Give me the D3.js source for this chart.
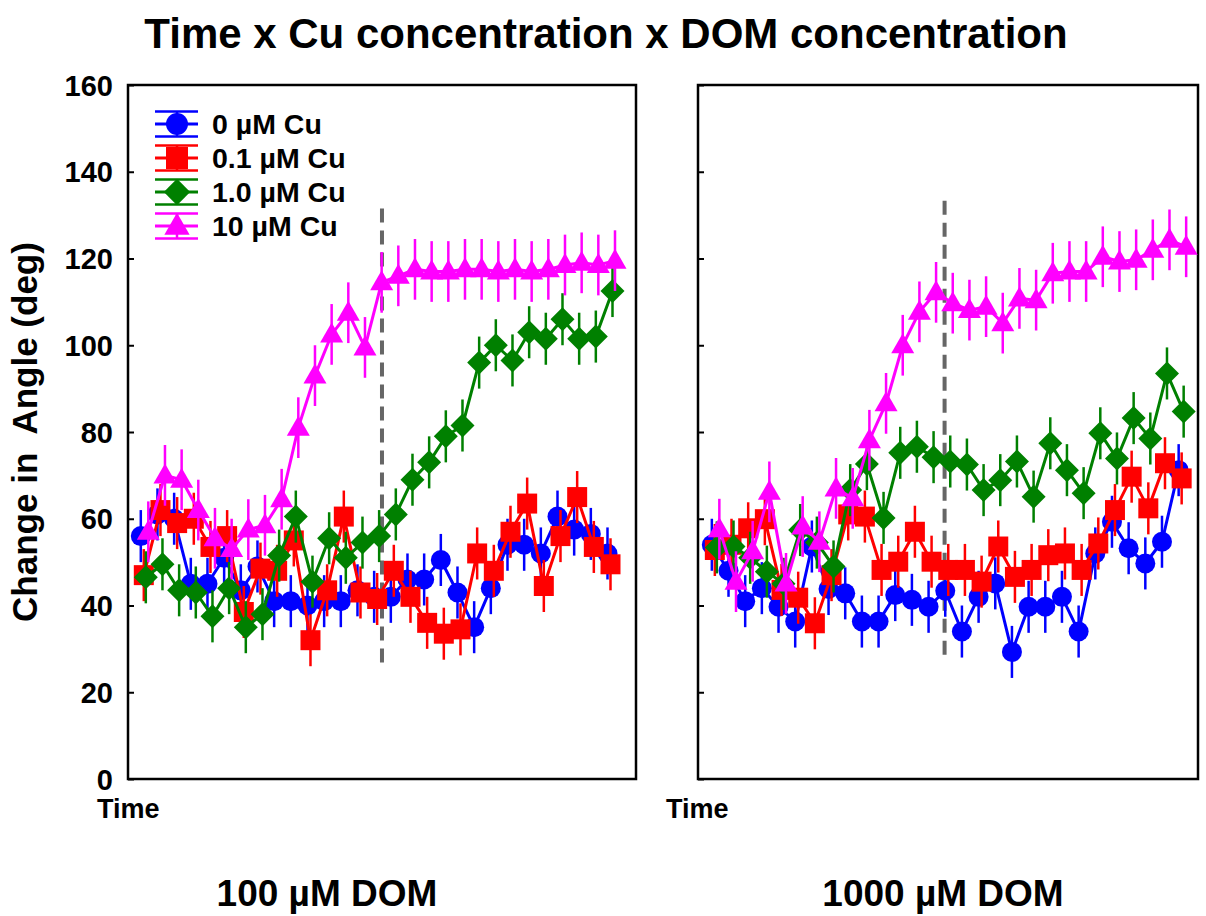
<!DOCTYPE html>
<html><head><meta charset="utf-8">
<script src="https://cdn.jsdelivr.net/npm/d3@7"></script>
<style>
body{margin:0;background:#fff}
text{font-family:"Liberation Sans",Arial,Helvetica,sans-serif;font-weight:bold;fill:#000}
</style>
</head><body>
<svg id="chart" width="1206" height="916"></svg>
<script>
// ---------------- data ----------------
const chartTitle = "Time x Cu concentration x DOM concentration";
const yAxisTitle = "Change in  Angle (deg)";
const xAxisTitle = "Time";
const seriesNames = ["0 µM Cu", "0.1 µM Cu", "1.0 µM Cu", "10 µM Cu"];
const seriesColors = ["#0000ff", "#ff0000", "#008000", "#ff00ff"];
const panelLabels = ["100 µM DOM", "1000 µM DOM"];
const yTicks = [0, 20, 40, 60, 80, 100, 120, 140, 160];
const timeIndex = [0,1,2,3,4,5,6,7,8,9,10,11,12,13,14,15,16,17,18,19,20,21,22,23,24,25,26,27,28];

// 100 µM DOM panel
const dom100_cu0   = [56,61,60,45,45,51,43.5,49,41,41,40,41,41,43.5,42,42,46,46,50.5,43,35,44,54,54,52,60.5,57.5,56.5,52];
const dom100_cu01  = [47,62,59,60,53.5,56,38.5,48.5,48,55,32,43.5,60.5,43,41.5,48,42,36,33.5,34.5,52,48,57,63.5,44.5,56,65,53.5,49.5];
const dom100_cu1   = [46.5,49.5,43.5,43,37.5,44,35,38,51.5,60.5,45.5,55.5,51,54.5,56,61,69,73,79,81.5,96,100,96.5,103,101.5,106,101.5,102,112.5];
const dom100_cu10  = [57,70,69,62,55.5,53,57.5,58.5,64.5,81,93,102.5,107.5,99.5,114.5,116,117.5,117,117,117.5,117.5,117,117.5,117,117.5,118.5,119,118.5,119.5];
// 1000 µM DOM panel
const dom1000_cu0  = [54,48,41,44,39.7,36.3,53.6,43.8,42.8,36.3,36.3,42.4,41.3,39.7,43.4,34,42,45.1,29.3,39.7,39.7,42,34,52,59.3,53.2,49.7,54.7,71.2];
const dom1000_cu01 = [52.8,54,57.8,59.9,43.6,41.8,35.9,47,61,60.5,48.2,50.1,57,50.1,48.2,48.2,45.5,53.6,46.6,48.2,51.6,52,48.2,54.3,62,69.7,62.4,72.8,69.3];
const dom1000_cu1  = [53.4,53.6,51,47.8,45,57.4,54.5,49,66.6,72.6,60.2,75.2,76.6,74.2,73.2,72.5,66.6,68.9,73.2,65.1,77.4,71.2,65.9,79.7,73.9,83.2,78.5,93.5,84.7];
const dom1000_cu10 = [57.6,45.5,52.5,66.2,45.1,58.2,54.7,67,64.7,78.1,86.6,100,107.7,112.2,109.7,108.1,108.9,105.1,110.8,110.4,116.6,117,117,120.4,119.3,119.7,122,124.3,122.7];

// standard error per series (deg)
const seriesErr = [6, 6, 6, 7];
// dashed reference line: [time position, low value, high value]
const dashLine100  = [14.26, 25.5, 131.5];
const dashLine1000 = [13.75, 27.7, 133.3];

// ---------------- layout ----------------
const svg = d3.select("#chart");
const yTop = 85, yBot = 779;
const y = d3.scaleLinear().domain([0, 160]).range([yBot, yTop]);
const seriesDx = [-3.5, -0.5, 1.5, 4];

const panels = [
  {x0: 128, x1: 636, dom: [-0.978, 29.5], data: [dom100_cu0, dom100_cu01, dom100_cu1, dom100_cu10],
   dash: dashLine100, label: panelLabels[0], labelX: 327, timeX: 97, showYLabels: true, legend: true},
  {x0: 698, x1: 1198, dom: [-1.04, 28.95], data: [dom1000_cu0, dom1000_cu01, dom1000_cu1, dom1000_cu10],
   dash: dashLine1000, label: panelLabels[1], labelX: 943, timeX: 666, showYLabels: false, legend: false}
];

function markerPath(i, s) {
  s = s || 1;
  if (i === 0) return d3.symbol(d3.symbolCircle, Math.PI * 10 * 10 * s * s)();
  if (i === 1) return d3.symbol(d3.symbolSquare, 20 * 20 * s * s)();
  if (i === 2) { const h = 12 * s; return `M0,${-h}L${h},0L0,${h}L${-h},0Z`; }
  const h = 12 * s, w = 11.5 * s;
  return `M0,${-h}L${w},${8*s}L${-w},${8*s}Z`;
}

// title
svg.append("text").attr("x", 606).attr("y", 48).attr("text-anchor", "middle")
  .style("font-size", "42px").text(chartTitle);

// y axis title
svg.append("text").attr("transform", "translate(37,432) rotate(-90)")
  .attr("text-anchor", "middle").attr("xml:space", "preserve")
  .style("font-size", "35px").style("white-space", "pre").text(yAxisTitle);

panels.forEach(p => {
  const x = d3.scaleLinear().domain(p.dom).range([p.x0, p.x1]);
  const g = svg.append("g");

  // frame
  g.append("rect").attr("x", p.x0).attr("y", yTop).attr("width", p.x1 - p.x0).attr("height", yBot - yTop)
    .attr("fill", "none").attr("stroke", "#000").attr("stroke-width", 2.5);

  // y ticks (inside)
  const ax = d3.axisRight(y).tickValues(yTicks).tickSize(6).tickFormat(p.showYLabels ? d3.format("d") : "");
  const axg = g.append("g").attr("transform", `translate(${p.x0},0)`).call(ax);
  axg.select(".domain").remove();
  axg.selectAll(".tick line").attr("stroke", "#000").attr("stroke-width", 2);
  axg.selectAll(".tick text").attr("x", -15).attr("text-anchor", "end")
    .attr("dy", "0.35em").style("font-size", "29px").style("font-family", "'Liberation Sans',Arial,sans-serif")
    .style("font-weight", "bold").attr("fill", "#000");

  // dashed line
  g.append("line").attr("x1", x(p.dash[0])).attr("x2", x(p.dash[0]))
    .attr("y1", y(p.dash[2])).attr("y2", y(p.dash[1]))
    .attr("stroke", "#666").attr("stroke-width", 4).attr("stroke-dasharray", "14,8");

  // series
  p.data.forEach((vals, si) => {
    const col = seriesColors[si];
    const xs = k => x(timeIndex[k]) + seriesDx[si];
    const pts = vals.map((v, k) => [xs(k), y(v), v]);
    const sg = g.append("g");
    sg.append("path").attr("d", d3.line()(pts.map(d => [d[0], d[1]])))
      .attr("fill", "none").attr("stroke", col).attr("stroke-width", 3);
    sg.selectAll("line.err").data(pts).enter().append("line")
      .attr("x1", d => d[0]).attr("x2", d => d[0])
      .attr("y1", d => y(d[2] + seriesErr[si])).attr("y2", d => y(d[2] - seriesErr[si]))
      .attr("stroke", col).attr("stroke-width", 2.5);
    sg.selectAll("path.mk").data(pts).enter().append("path")
      .attr("d", markerPath(si)).attr("transform", d => `translate(${d[0]},${d[1]})`)
      .attr("fill", col);
  });

  // legend
  if (p.legend) {
    seriesNames.forEach((nm, i) => {
      const cy = 124 + i * 34, col = seriesColors[i];
      const lg = g.append("g");
      [-12.5, 0, 12.5].forEach(dy => lg.append("line").attr("x1", 155).attr("x2", 198)
        .attr("y1", cy + dy).attr("y2", cy + dy).attr("stroke", col).attr("stroke-width", dy === 0 ? 3 : 2.5));
      lg.append("line").attr("x1", 177).attr("x2", 177).attr("y1", cy - 12.5).attr("y2", cy + 12.5)
        .attr("stroke", col).attr("stroke-width", 2.5);
      lg.append("path").attr("d", markerPath(i, 1.1)).attr("transform", `translate(177,${cy})`).attr("fill", col);
      lg.append("text").attr("x", 212).attr("y", cy + 10).style("font-size", "28.5px").text(nm);
    });
  }

  // x axis title and panel label
  g.append("text").attr("x", p.timeX).attr("y", 818).style("font-size", "27px").text(xAxisTitle);
  g.append("text").attr("x", p.labelX).attr("y", 906).attr("text-anchor", "middle")
    .style("font-size", "37px").text(p.label);
});
</script>
</body></html>
